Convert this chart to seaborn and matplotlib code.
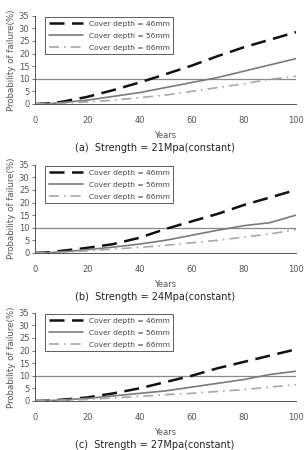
import pandas as pd
import seaborn as sns
import matplotlib.pyplot as plt

years = [0, 5, 10, 15, 20, 30, 40, 50, 60, 70, 80, 90, 100]

# panel (a) 21 MPa
a_46 = [0, 0.2, 0.8, 1.8, 2.8, 5.5, 8.5, 11.8, 15.2, 19.0, 22.5, 25.5, 28.5]
a_56 = [0, 0.1, 0.5, 1.0, 1.5, 3.0, 4.5, 6.5, 8.5, 10.5, 13.0, 15.5, 18.0]
a_66 = [0, 0.0, 0.2, 0.5, 0.8, 1.5, 2.5, 3.5, 5.0, 6.5, 8.0, 9.8, 11.0]

# panel (b) 24 MPa
b_46 = [0, 0.2, 0.8, 1.4, 2.0, 3.5, 6.0, 9.5, 12.5, 15.5, 19.0, 22.0, 25.0]
b_56 = [0, 0.1, 0.4, 0.8, 1.3, 2.3, 3.5, 5.0, 7.0, 9.0, 10.8, 12.0, 15.0]
b_66 = [0, 0.0, 0.2, 0.5, 0.8, 1.5, 2.2, 3.0, 4.0, 5.0, 6.3, 7.5, 9.3]

# panel (c) 27 MPa
c_46 = [0, 0.1, 0.5, 0.9, 1.4, 3.0, 5.0, 7.5, 10.0, 13.0, 15.5, 18.0, 20.5]
c_56 = [0, 0.1, 0.4, 0.7, 1.0, 2.0, 3.0, 4.0, 5.5, 7.0, 8.5, 10.5, 11.8]
c_66 = [0, 0.0, 0.2, 0.4, 0.6, 1.2, 1.8, 2.5, 3.0, 3.8, 4.5, 5.5, 6.5]

labels = ["Cover depth = 46mm", "Cover depth = 56mm", "Cover depth = 66mm"]
titles = ["(a)  Strength = 21Mpa(constant)",
          "(b)  Strength = 24Mpa(constant)",
          "(c)  Strength = 27Mpa(constant)"]
panels = [[a_46, a_56, a_66], [b_46, b_56, b_66], [c_46, c_56, c_66]]

sns.set_style("ticks")
plt.rcParams['font.family'] = ['DejaVu Sans']

colors = ["#111111", "#7a7a7a", "#a8a8a8"]
dashes = [(6, 3), (None, None), (6, 3, 1, 3)]
widths = [1.8, 1.2, 1.2]

fig = plt.figure(figsize=(3.04, 4.5), dpi=100)
bottoms = [0.769, 0.438, 0.109]

for i, series in enumerate(panels):
    ax = fig.add_axes([0.115, bottoms[i], 0.859, 0.196])
    for j, vals in enumerate(series):
        df = pd.DataFrame({"Years": years, "P": vals})
        sns.lineplot(data=df, x="Years", y="P", ax=ax, color=colors[j],
                     lw=widths[j], label=labels[j])
        ln = ax.lines[-1]
        if dashes[j][0] is not None:
            ln.set_dashes(dashes[j])
    ax.axhline(10, color="#888888", lw=0.9, zorder=0)
    ax.set_xlim(0, 100)
    ax.set_ylim(0, 35)
    ax.set_xticks([0, 20, 40, 60, 80, 100])
    ax.set_yticks([0, 5, 10, 15, 20, 25, 30, 35])
    ax.tick_params(labelsize=6, colors="#555555", length=2, width=0.6, pad=2)
    ax.tick_params(axis="x", length=0, pad=9)
    for s in ["top", "right"]:
        ax.spines[s].set_visible(False)
    for s in ["left", "bottom"]:
        ax.spines[s].set_color("#555555")
        ax.spines[s].set_linewidth(0.7)
    ax.set_xlabel("Years", fontsize=6, color="#555555", labelpad=4)
    ax.set_ylabel("Probability of failure(%)", fontsize=6.2, color="#555555", labelpad=2)
    leg = ax.legend(loc="upper left", fontsize=5.4, handlelength=4.5, frameon=True,
                    fancybox=False, borderpad=0.5, labelspacing=0.75,
                    bbox_to_anchor=(0.025, 1.03))
    leg.get_frame().set_edgecolor("#333333")
    leg.get_frame().set_linewidth(0.7)
    for t in leg.get_texts():
        t.set_color("#444444")
    ax.text(0.46, -0.5, titles[i], transform=ax.transAxes, ha="center",
            va="center", fontsize=7, color="#222222")

fig.savefig("out.png", dpi=100)
